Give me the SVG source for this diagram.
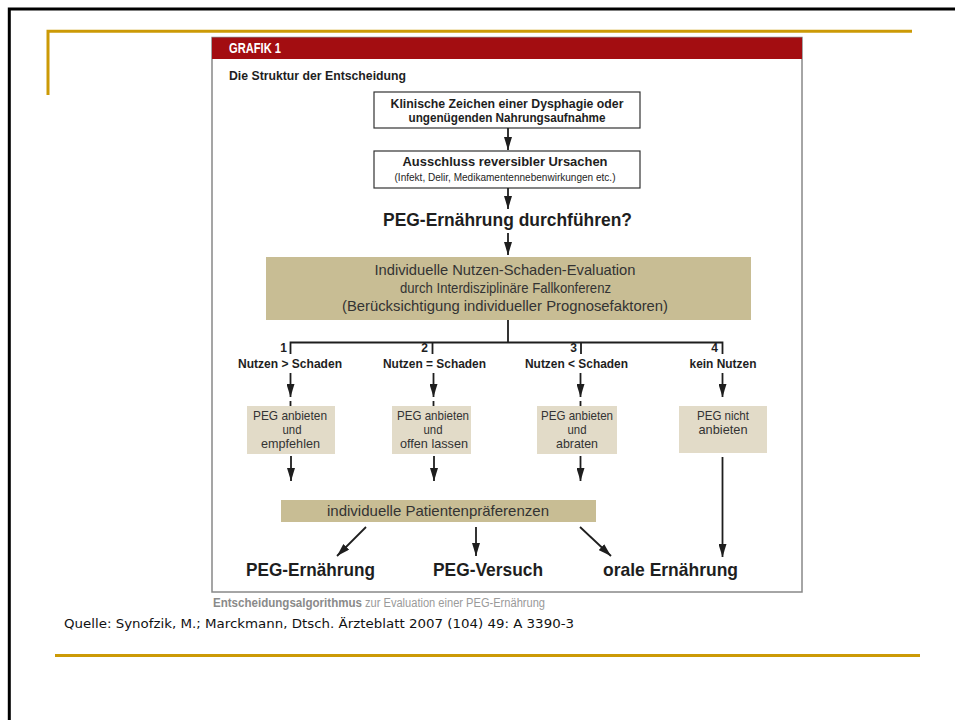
<svg xmlns="http://www.w3.org/2000/svg" width="955" height="720" viewBox="0 0 955 720">
<defs>
<style>
.c{font-family:"Liberation Sans",Arial,sans-serif;}
.b{font-weight:bold;}
.dk{fill:#1e1e1e;}
.gr{fill:#333;}
.ln{stroke:#1e1e1e;stroke-width:1.8;fill:none;}
.box{fill:#fff;stroke:#333;stroke-width:1.2;}
.tan{fill:#c8bd94;}
.lt{fill:#e2dbc8;}
.gold{stroke:#cc9a06;stroke-width:3;fill:none;}
</style>
<marker id="ah" markerUnits="userSpaceOnUse" viewBox="0 0 13 8" refX="13" refY="4" markerWidth="13" markerHeight="8" orient="auto">
<path d="M0,0 L13,4 L0,8 z" fill="#1e1e1e"/>
</marker>
</defs>
<rect width="955" height="720" fill="#fff"/>
<g id="frame">
<path d="M9.3,720 V9 H955" stroke="#000" stroke-width="3" fill="none"/>
<path class="gold" d="M48,95 V31.3 H912"/>
<line class="gold" x1="55" y1="655.5" x2="920" y2="655.5"/>
</g>
<g id="panel">
<rect x="212" y="37.5" width="590" height="554.5" fill="#fff" stroke="#888" stroke-width="1.5"/>
<rect x="212" y="37.5" width="590" height="21.5" fill="#a30d11"/>
<text class="c b" x="229" y="53" font-size="14" fill="#fff" textLength="52" lengthAdjust="spacingAndGlyphs">GRAFIK 1</text>
<text class="c b dk" x="229" y="80" font-size="13" textLength="177" lengthAdjust="spacingAndGlyphs">Die Struktur der Entscheidung</text>
</g>
<g id="n1">
<rect class="box" x="374" y="92" width="266" height="36"/>
<text class="c b dk" x="507" y="108" font-size="12.5" text-anchor="middle" textLength="233" lengthAdjust="spacingAndGlyphs">Klinische Zeichen einer Dysphagie oder</text>
<text class="c b dk" x="507" y="122" font-size="12.5" text-anchor="middle" textLength="197" lengthAdjust="spacingAndGlyphs">ungenügenden Nahrungsaufnahme</text>
</g>
<g id="n2">
<rect class="box" x="374" y="151" width="266" height="37"/>
<text class="c b dk" x="505" y="166" font-size="13" text-anchor="middle" textLength="205" lengthAdjust="spacingAndGlyphs">Ausschluss reversibler Ursachen</text>
<text class="c dk" x="505" y="181" font-size="11" text-anchor="middle" textLength="221" lengthAdjust="spacingAndGlyphs">(Infekt, Delir, Medikamentennebenwirkungen etc.)</text>
</g>
<g id="q">
<text class="c b dk" x="507.5" y="226" font-size="18" text-anchor="middle" textLength="249" lengthAdjust="spacingAndGlyphs">PEG-Ernährung durchführen?</text>
</g>
<g id="n3">
<rect class="tan" x="266" y="257" width="485" height="63"/>
<text class="c gr" x="505" y="275" font-size="15" text-anchor="middle" textLength="261" lengthAdjust="spacingAndGlyphs">Individuelle Nutzen-Schaden-Evaluation</text>
<text class="c gr" x="505.5" y="293" font-size="15" text-anchor="middle" textLength="211" lengthAdjust="spacingAndGlyphs">durch Interdisziplinäre Fallkonferenz</text>
<text class="c gr" x="505" y="311" font-size="15" text-anchor="middle" textLength="326" lengthAdjust="spacingAndGlyphs">(Berücksichtigung individueller Prognosefaktoren)</text>
</g>
<g id="labels">
<text class="c b dk" x="287" y="352" font-size="12" text-anchor="end">1</text>
<text class="c b dk" x="428" y="352" font-size="12" text-anchor="end">2</text>
<text class="c b dk" x="577" y="352" font-size="12" text-anchor="end">3</text>
<text class="c b dk" x="718" y="352" font-size="12" text-anchor="end">4</text>
<text class="c b dk" x="290" y="368" font-size="13" text-anchor="middle" textLength="104" lengthAdjust="spacingAndGlyphs">Nutzen &gt; Schaden</text>
<text class="c b dk" x="434.5" y="368" font-size="13" text-anchor="middle" textLength="103" lengthAdjust="spacingAndGlyphs">Nutzen = Schaden</text>
<text class="c b dk" x="576.5" y="368" font-size="13" text-anchor="middle" textLength="103" lengthAdjust="spacingAndGlyphs">Nutzen &lt; Schaden</text>
<text class="c b dk" x="723" y="368" font-size="13" text-anchor="middle" textLength="67" lengthAdjust="spacingAndGlyphs">kein Nutzen</text>
</g>
<g id="o1">
<rect class="lt" x="247" y="406" width="88" height="48"/>
<text class="c gr" x="290" y="420" font-size="13" text-anchor="middle" textLength="74" lengthAdjust="spacingAndGlyphs">PEG anbieten</text>
<text class="c gr" x="292" y="434" font-size="13" text-anchor="middle" textLength="19" lengthAdjust="spacingAndGlyphs">und</text>
<text class="c gr" x="290.5" y="448" font-size="13" text-anchor="middle" textLength="59" lengthAdjust="spacingAndGlyphs">empfehlen</text>
</g>
<g id="o2">
<rect class="lt" x="392" y="406" width="79" height="48"/>
<text class="c gr" x="433" y="420" font-size="13" text-anchor="middle" textLength="72" lengthAdjust="spacingAndGlyphs">PEG anbieten</text>
<text class="c gr" x="433" y="434" font-size="13" text-anchor="middle" textLength="19" lengthAdjust="spacingAndGlyphs">und</text>
<text class="c gr" x="434" y="448" font-size="13" text-anchor="middle" textLength="68" lengthAdjust="spacingAndGlyphs">offen lassen</text>
</g>
<g id="o3">
<rect class="lt" x="537" y="406" width="80" height="48"/>
<text class="c gr" x="577" y="420" font-size="13" text-anchor="middle" textLength="72" lengthAdjust="spacingAndGlyphs">PEG anbieten</text>
<text class="c gr" x="577" y="434" font-size="13" text-anchor="middle" textLength="19" lengthAdjust="spacingAndGlyphs">und</text>
<text class="c gr" x="577" y="448" font-size="13" text-anchor="middle" textLength="42" lengthAdjust="spacingAndGlyphs">abraten</text>
</g>
<g id="o4">
<rect class="lt" x="679" y="406" width="88" height="47"/>
<text class="c gr" x="723" y="420" font-size="13" text-anchor="middle" textLength="52" lengthAdjust="spacingAndGlyphs">PEG nicht</text>
<text class="c gr" x="723" y="434" font-size="13" text-anchor="middle" textLength="49" lengthAdjust="spacingAndGlyphs">anbieten</text>
</g>
<g id="n4">
<rect class="tan" x="281" y="500" width="315" height="22"/>
<text class="c gr" x="438" y="516" font-size="15" text-anchor="middle" textLength="222" lengthAdjust="spacingAndGlyphs">individuelle Patientenpräferenzen</text>
</g>
<g id="r1"><text class="c b dk" x="310.5" y="576" font-size="19" text-anchor="middle" textLength="129" lengthAdjust="spacingAndGlyphs">PEG-Ernährung</text></g>
<g id="r2"><text class="c b dk" x="488" y="576" font-size="19" text-anchor="middle" textLength="110" lengthAdjust="spacingAndGlyphs">PEG-Versuch</text></g>
<g id="r3"><text class="c b dk" x="670.5" y="576" font-size="19" text-anchor="middle" textLength="135" lengthAdjust="spacingAndGlyphs">orale Ernährung</text></g>
<g id="connectors">
<line class="ln" x1="508" y1="128" x2="508" y2="150" marker-end="url(#ah)"/>
<line class="ln" x1="508" y1="188" x2="508" y2="209" marker-end="url(#ah)"/>
<line class="ln" x1="508" y1="233" x2="508" y2="255" marker-end="url(#ah)"/>
<path class="ln" d="M508,320 V342.5 M290.5,354 V342.5 H722.5 V354 M432.5,342.5 V354 M581,342.5 V354"/>
<line class="ln" x1="290.5" y1="373" x2="290.5" y2="397" marker-end="url(#ah)"/>
<line class="ln" x1="433.5" y1="373" x2="433.5" y2="397" marker-end="url(#ah)"/>
<line class="ln" x1="580.5" y1="373" x2="580.5" y2="397" marker-end="url(#ah)"/>
<line class="ln" x1="722.5" y1="373" x2="722.5" y2="397" marker-end="url(#ah)"/>
<path class="ln" d="M290.5,401 V406 M433.5,401 V406 M580.5,401 V406"/>
<line class="ln" x1="291" y1="456" x2="291" y2="481" marker-end="url(#ah)"/>
<line class="ln" x1="434" y1="456" x2="434" y2="481" marker-end="url(#ah)"/>
<line class="ln" x1="580.5" y1="456" x2="580.5" y2="481" marker-end="url(#ah)"/>
<line class="ln" x1="722.5" y1="457" x2="722.5" y2="557" marker-end="url(#ah)"/>
<line class="ln" x1="366" y1="527" x2="337" y2="556" marker-end="url(#ah)"/>
<line class="ln" x1="476" y1="527" x2="476" y2="556" marker-end="url(#ah)"/>
<line class="ln" x1="580" y1="527" x2="611" y2="556" marker-end="url(#ah)"/>
</g>
<g id="caption">
<text class="c" y="607" font-size="12"><tspan x="213" font-weight="bold" fill="#8a8a8a" textLength="149" lengthAdjust="spacingAndGlyphs">Entscheidungsalgorithmus</tspan><tspan x="365" fill="#9a9a9a" textLength="180" lengthAdjust="spacingAndGlyphs">zur Evaluation einer PEG-Ernährung</tspan></text>
<text x="64" y="628" font-family="'DejaVu Sans',Verdana,sans-serif" font-size="12.5" fill="#111" textLength="510" lengthAdjust="spacingAndGlyphs">Quelle: Synofzik, M.; Marckmann, Dtsch. Ärzteblatt 2007 (104) 49: A 3390-3</text>
</g>
</svg>
